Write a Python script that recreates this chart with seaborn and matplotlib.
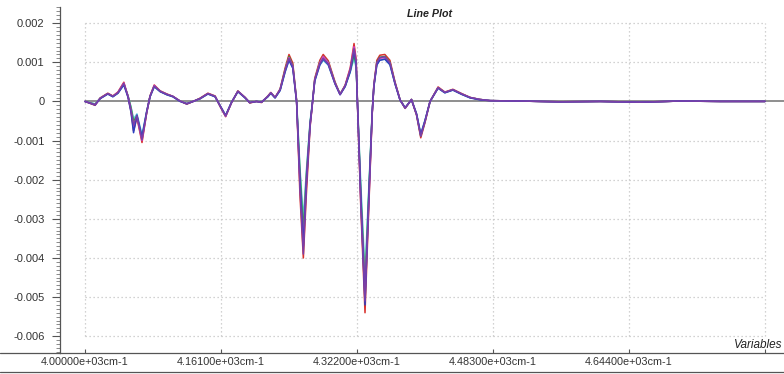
import matplotlib
matplotlib.use("Agg")
import matplotlib.pyplot as plt
import numpy as np
import pandas as pd
import seaborn as sns
from matplotlib.lines import Line2D
from matplotlib.ticker import FixedLocator, MultipleLocator

# ---------------- data (values in units of 1e-4) ----------------
wavenumber = [4000, 4012, 4018, 4027, 4033, 4039, 4046, 4051, 4054.5, 4057.5,
              4061.5, 4067.5, 4073, 4077, 4082, 4089, 4097, 4104, 4112.5, 4120.5,
              4128, 4136, 4145.5, 4154, 4160, 4166.5, 4173.5, 4181, 4189.5, 4195,
              4203, 4209, 4216.5, 4220, 4225, 4231, 4237, 4241.5, 4246, 4250.5,
              4254.5, 4258.5, 4262, 4266.5, 4268.5, 4272, 4278, 4282, 4288, 4296,
              4302, 4308, 4314, 4318.5, 4321, 4322.5, 4326.5, 4331.5, 4336, 4340,
              4342, 4345.5, 4349, 4355, 4361, 4367, 4373, 4379, 4386.5, 4392.5,
              4397.5, 4402.5, 4408.5, 4418, 4426, 4435.5, 4446, 4456, 4467.5, 4479.5,
              4515, 4562, 4610, 4657, 4704, 4752, 4805]

sample_1 = [0, -1.0, 0.9, 2.1, 1.4, 2.4, 4.9, 1.2, -2.5, -7.5,
            -4.2, -10.5, -3.0, 1.4, 4.2, 2.7, 1.9, 1.3, 0.1, -0.7,
            0, 0.8, 2.1, 1.4, -1.3, -3.9, -0.3, 2.7, 1.0, -0.4,
            0, -0.3, 1.4, 2.3, 1.0, 3.2, 8.6, 12.0, 9.8, 0.3,
            -24, -40, -24, -6.5, -2.2, 5.9, 10.5, 12.0, 10.4, 5.0,
            1.8, 4.2, 8.6, 14.8, 10.8, 0, -27, -54, -27, -3.2,
            4.3, 10.5, 11.8, 12.0, 10.5, 5.0, 0.4, -1.8, 0.5, -3.5,
            -9.3, -5.4, 0, 3.7, 2.4, 3.1, 2.0, 1.0, 0.5, 0.2,
            0.1, -0.1, 0, -0.2, 0.1, 0, 0]
sample_2 = [0, -0.9, 0.7, 1.9, 1.2, 2.1, 4.2, 1.0, -2.8, -8.0,
            -3.5, -9.0, -2.6, 1.2, 3.8, 2.5, 1.7, 1.2, 0.0, -0.6,
            0, 0.7, 1.9, 1.2, -1.1, -3.6, -0.2, 2.5, 0.9, -0.3,
            0, -0.2, 1.2, 2.1, 0.9, 2.8, 7.6, 10.5, 8.5, -0.2,
            -20, -37, -21, -5.8, -1.9, 5.2, 9.3, 10.8, 9.4, 4.5,
            1.7, 3.8, 7.6, 13.0, 9.5, -0.2, -24, -52, -24, -2.8,
            3.8, 9.3, 10.5, 10.8, 9.4, 4.5, 0.3, -1.6, 0.4, -3.2,
            -8.5, -4.9, 0, 3.4, 2.2, 2.9, 1.8, 0.9, 0.4, 0.2,
            0.1, -0.1, 0, -0.2, 0.1, 0, 0]
sample_3 = [0, -0.7, 0.8, 2.0, 1.3, 2.2, 4.5, 1.4, -1.6, -5.0,
            -3.8, -9.5, -2.9, 1.3, 4.0, 2.6, 1.8, 1.3, 0.1, -0.6,
            0, 0.7, 2.0, 1.3, -1.2, -3.7, -0.3, 2.6, 1.0, -0.3,
            0, -0.2, 1.3, 2.2, 1.0, 3.0, 8.2, 11.5, 9.2, 0.2,
            -18, -33, -19, -5.5, -1.8, 5.6, 10.0, 11.5, 10.0, 4.8,
            1.9, 4.0, 7.8, 12.0, 9.2, 0.2, -23, -47, -23, -2.8,
            4.0, 10.0, 11.3, 11.5, 10.0, 4.8, 0.4, -1.7, 0.5, -3.3,
            -8.8, -5.1, 0, 3.5, 2.3, 3.0, 1.9, 1.0, 0.5, 0.2,
            0.1, -0.1, 0, -0.2, 0.1, 0, 0]
sample_4 = [0, -0.8, 0.8, 2.0, 1.3, 2.3, 4.7, 1.3, -2.2, -6.5,
            -4.0, -10.0, -2.9, 1.3, 4.1, 2.6, 1.8, 1.3, 0.1, -0.6,
            0, 0.7, 2.0, 1.3, -1.2, -3.8, -0.3, 2.6, 1.0, -0.3,
            0, -0.2, 1.3, 2.2, 1.0, 3.0, 8.0, 11.2, 9.0, 0,
            -21, -36, -20, -5.9, -2.0, 5.5, 9.9, 11.5, 9.9, 4.7,
            1.8, 4.0, 8.2, 14.0, 10.2, 0, -25, -49, -25, -3.0,
            4.0, 9.8, 11.0, 11.2, 9.8, 4.7, 0.4, -1.7, 0.5, -3.3,
            -8.6, -5.0, 0, 3.5, 2.3, 3.0, 1.9, 1.0, 0.5, 0.2,
            0.1, -0.1, 0, -0.2, 0.1, 0, 0]
sample_5 = [0, -0.6, 0.8, 1.9, 1.2, 2.1, 4.3, 1.4, -1.4, -4.5,
            -3.2, -8.5, -2.6, 1.2, 3.7, 2.5, 1.7, 1.2, 0.1, -0.5,
            0, 0.6, 1.9, 1.2, -1.1, -3.5, -0.2, 2.5, 0.9, -0.2,
            0, -0.1, 1.2, 2.1, 0.9, 2.8, 7.6, 10.6, 8.6, 0.2,
            -17, -30, -18, -5.0, -1.6, 5.2, 9.3, 10.5, 9.3, 4.5,
            1.8, 3.8, 7.5, 11.0, 8.6, 0.2, -21, -44, -22, -2.6,
            3.8, 9.4, 10.6, 10.8, 9.4, 4.5, 0.4, -1.6, 0.5, -3.1,
            -8.2, -4.8, 0, 3.4, 2.2, 2.9, 1.8, 0.9, 0.5, 0.2,
            0.1, -0.1, 0, -0.2, 0.1, 0, 0]
sample_6 = [0, -0.9, 0.8, 2.0, 1.3, 2.2, 4.6, 1.2, -2.3, -6.0,
            -3.6, -9.8, -2.8, 1.3, 3.9, 2.6, 1.8, 1.3, 0.1, -0.6,
            0, 0.7, 2.0, 1.3, -1.2, -3.7, -0.3, 2.6, 1.0, -0.3,
            0, -0.2, 1.3, 2.2, 1.0, 3.0, 8.0, 11.0, 9.0, 0,
            -22, -39, -22, -6.2, -2.1, 5.5, 9.6, 11.0, 9.6, 4.6,
            1.8, 4.0, 8.1, 13.5, 10.0, 0, -26, -51, -26, -3.1,
            4.1, 9.9, 11.2, 11.4, 9.9, 4.7, 0.4, -1.7, 0.5, -3.4,
            -8.9, -5.2, 0, 3.5, 2.3, 3.0, 1.9, 1.0, 0.5, 0.2,
            0.1, -0.1, 0, -0.2, 0.1, 0, 0]

VALUE_UNIT = 1e-4
samples = {"S1": sample_1, "S2": sample_2, "S3": sample_3,
           "S4": sample_4, "S5": sample_5, "S6": sample_6}
sample_colors = ["#d9302c", "#5bc8d8", "#2f9e3c", "#d63fc0", "#2a3fc0", "#7a3fa8"]
draw_order = ["S1", "S5", "S3", "S4", "S2", "S6"]

x_ticks = [4000, 4161, 4322, 4483, 4644, 4805]
x_tick_labels = ["4.00000e+03cm-1", "4.16100e+03cm-1", "4.32200e+03cm-1",
                 "4.48300e+03cm-1", "4.64400e+03cm-1", ""]
y_ticks = [0.002, 0.001, 0.0, -0.001, -0.002, -0.003, -0.004, -0.005, -0.006]
y_tick_labels = ["0.002", "0.001", "0", "-0.001", "-0.002", "-0.003",
                 "-0.004", "-0.005", "-0.006"]
title_text = "Line Plot"
x_label_text = "Variables"

# ---------------- build long table ----------------
rows = []
for name in draw_order:
    for w, v in zip(wavenumber, samples[name]):
        rows.append({"wavenumber": w, "value": v * VALUE_UNIT, "sample": name})
df = pd.DataFrame(rows)

# ---------------- figure ----------------
sns.set_style("white")
plt.rcParams["font.family"] = ["Liberation Sans", "DejaVu Sans"]

fig = plt.figure(figsize=(7.84, 3.74), dpi=100)
ax = fig.add_axes([0.0765, 0.056, 0.9235, 0.925])

# grid (dotted, spanning the tick box)
ax.hlines([t for t in y_ticks if t != 0], x_ticks[0], x_ticks[-1],
          colors="#c4c4c4", linestyles=(0, (1, 2.2)), linewidth=0.9, zorder=1)
ax.vlines(x_ticks, min(y_ticks), max(y_ticks),
          colors="#c4c4c4", linestyles=(0, (1, 2.2)), linewidth=0.9, zorder=1)

palette = dict(zip(draw_order, sample_colors))
sns.lineplot(data=df, x="wavenumber", y="value", hue="sample",
             palette=palette, hue_order=draw_order, estimator=None,
             sort=False, linewidth=1.1, legend=False, ax=ax, zorder=3)

# zero line
ax.hlines(0, wavenumber[0], 4830, colors="#707070", linewidth=1.1, zorder=2)

ax.set_xlim(3970.4, 4827.5)
ax.set_ylim(-0.00643, 0.00241)

ax.xaxis.set_major_locator(FixedLocator(x_ticks))
ax.set_xticklabels(x_tick_labels)
ax.yaxis.set_major_locator(FixedLocator(y_ticks))
ax.set_yticklabels(y_tick_labels)
ax.yaxis.set_minor_locator(MultipleLocator(0.0001))

ax.tick_params(axis="x", which="major", bottom=True, direction="in", length=3,
               width=0.8, color="#555555", labelsize=7.8, labelcolor="#333333",
               pad=3)
ax.tick_params(axis="y", which="major", left=True, direction="out", length=6,
               width=0.8, color="#555555", labelsize=8, labelcolor="#333333",
               pad=5)
ax.tick_params(axis="y", which="minor", left=True, direction="out", length=3,
               width=0.6, color="#777777")
ax.set_xlabel("")
ax.set_ylabel("")

for side in ["top", "right"]:
    ax.spines[side].set_visible(False)
for side in ["left", "bottom"]:
    ax.spines[side].set_color("#555555")
    ax.spines[side].set_linewidth(0.9)

# x axis line extension and bottom frame line
fig.add_artist(Line2D([0, 0.0765], [0.056, 0.056], transform=fig.transFigure,
                      color="#555555", linewidth=0.9))
fig.add_artist(Line2D([0, 1], [0.006, 0.006], transform=fig.transFigure,
                      color="#555555", linewidth=0.9))

fig.text(0.548, 0.962, title_text, ha="center", va="center", fontsize=7.7,
         fontstyle="italic", fontweight="bold", color="#222222")
fig.text(0.998, 0.078, x_label_text, ha="right", va="center", fontsize=8.5,
         fontstyle="italic", color="#222222")

fig.savefig("out.png", dpi=100)
